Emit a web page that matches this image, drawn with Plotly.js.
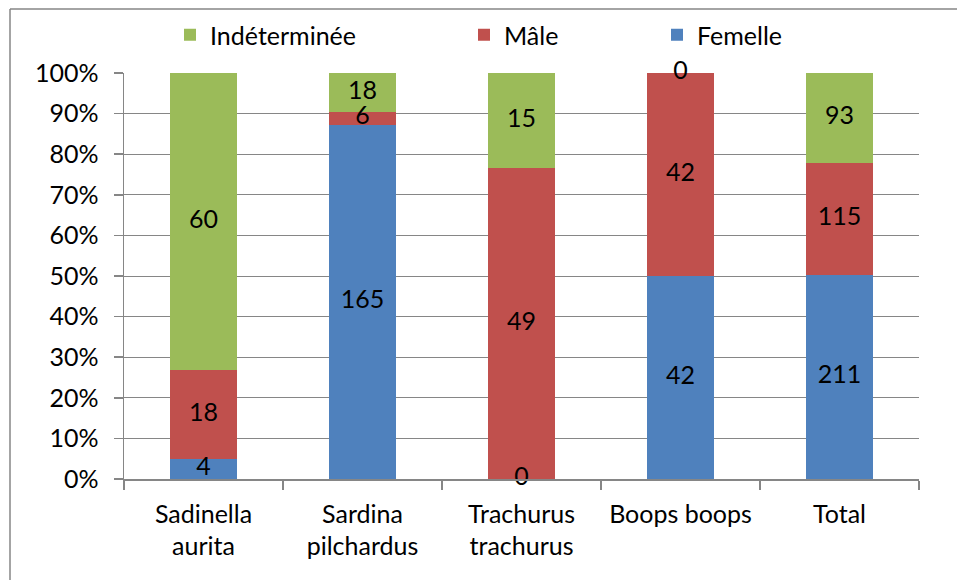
<!DOCTYPE html>
<html>
<head>
<meta charset="utf-8">
<script src="https://cdn.plot.ly/plotly-3.0.1.min.js"></script>
<style>html,body{margin:0;padding:0;background:#fff;}#chart{width:957px;height:580px;}</style>
</head>
<body>
<div id="chart"></div>
<script>
var categories = ["Sadinella<br>aurita", "Sardina<br>pilchardus", "Trachurus<br>trachurus", "Boops boops", "Total"];
var femelle = [4, 165, 0, 42, 211];
var male = [18, 6, 49, 42, 115];
var indeterminee = [60, 18, 15, 0, 93];
var seriesNames = ["Femelle", "Mâle", "Indéterminée"];
var seriesColors = ["#4F81BD", "#C0504D", "#9BBB59"];
var yTickVals = [0, 10, 20, 30, 40, 50, 60, 70, 80, 90, 100];
var yTickText = ["0%", "10%", "20%", "30%", "40%", "50%", "60%", "70%", "80%", "90%", "100%"];

var FONT = "Lato, 'Open Sans', sans-serif";
var FS = 25;
var series = [femelle, male, indeterminee];
var legends = ["legend3", "legend2", "legend"];

var traces = [];
series.forEach(function (vals, i) {
  traces.push({
    type: "bar", x: categories, y: vals, name: seriesNames[i],
    marker: {color: seriesColors[i], line: {width: 0}},
    legend: legends[i], hoverinfo: "skip"
  });
});

// data labels at segment midpoints, computed from the data
var totals = categories.map(function (_, j) { return femelle[j] + male[j] + indeterminee[j]; });
series.forEach(function (vals, i) {
  var ys = vals.map(function (v, j) {
    var below = 0;
    for (var k = 0; k < i; k++) below += series[k][j];
    return (below + v / 2) / totals[j] * 100;
  });
  traces.push({
    type: "scatter", mode: "text", x: categories, y: ys,
    text: vals.map(String), textposition: "middle center",
    textfont: {family: FONT, size: FS, color: "#000"},
    showlegend: false, hoverinfo: "skip", cliponaxis: false
  });
});

var L = 124, T = 73, W = 795, H = 406;
function px(x) { return (x - L) / W; }
function py(y) { return 1 - (y - T) / H; }

var legendCommon = {orientation: "h", yanchor: "middle", xanchor: "left", y: py(35),
  font: {family: FONT, size: FS, color: "#000"}, bgcolor: "rgba(0,0,0,0)"};

var layout = {
  width: 957, height: 580,
  margin: {l: L, r: 957 - L - W, t: T, b: 580 - T - H},
  paper_bgcolor: "#fff", plot_bgcolor: "#fff",
  barmode: "stack", barnorm: "percent", bargap: 0.58,
  font: {family: FONT, size: FS, color: "#000"},
  xaxis: {
    type: "category", tickson: "boundaries", ticks: "outside", ticklen: 9,
    tickcolor: "#868686", tickwidth: 1.5, showline: true, linecolor: "#868686", linewidth: 1.5,
    showgrid: false, ticklabelstandoff: 12,
    tickfont: {family: FONT, size: FS, color: "#000"}, fixedrange: true
  },
  yaxis: {
    range: [0, 100], tickmode: "array", tickvals: yTickVals, ticktext: yTickText,
    ticks: "outside", ticklen: 9, ticklabelstandoff: 10,
    tickcolor: "#868686", tickwidth: 1.5, showline: true, linecolor: "#868686", linewidth: 1.5,
    showgrid: true, gridcolor: "#868686", gridwidth: 1, zeroline: false,
    tickfont: {family: FONT, size: FS, color: "#000"}, fixedrange: true
  },
  legend: Object.assign({}, legendCommon, {x: px(170)}),
  legend2: Object.assign({}, legendCommon, {x: px(464)}),
  legend3: Object.assign({}, legendCommon, {x: px(657)}),
  showlegend: true,
  shapes: [
    {type: "line", xref: "paper", yref: "paper", x0: px(10), x1: px(10), y0: py(600), y1: py(9),
     line: {color: "#868686", width: 1.5}},
    {type: "line", xref: "paper", yref: "paper", x0: px(10), x1: px(1000), y0: py(9), y1: py(9),
     line: {color: "#868686", width: 1.5}}
  ]
};

Plotly.newPlot("chart", traces, layout, {displayModeBar: false, staticPlot: true});
</script>
</body>
</html>
